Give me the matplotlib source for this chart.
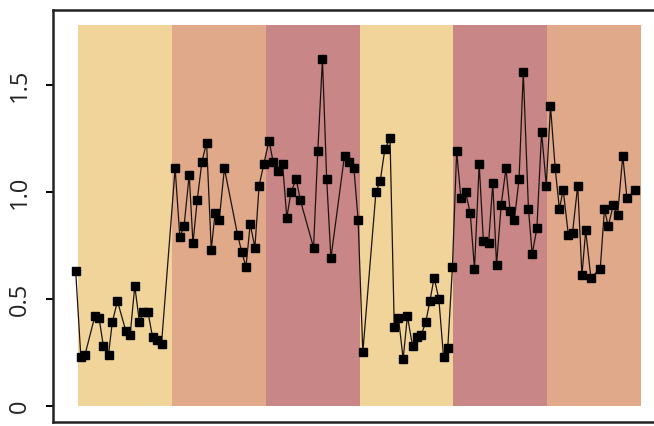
import matplotlib
matplotlib.use("Agg")
import numpy as np
from matplotlib import pyplot as plt

# background phases (x in days, each phase 20 days wide)
phase_start = [0, 20, 40, 60, 80, 100]
phase_width = [20, 20, 20, 20, 20, 20]
phase_top = 1.78
phase_colors = ["#F1D49A", "#DFA98A", "#C98686", "#F1D49A", "#C98686", "#DFA98A"]

# series
x = [-0.5, 0.6, 1.5, 3.6, 4.5, 5.4, 6.5, 7.3, 8.4, 10.2, 11.1, 12.1, 13.1, 13.9,
     14.9, 15.9, 16.9, 17.8, 20.7, 21.7, 22.6, 23.7, 24.5, 25.4, 26.4, 27.4, 28.4,
     29.2, 30.1, 31.2, 34.0, 34.9, 35.8, 36.7, 37.7, 38.6, 39.6, 40.7, 41.6, 42.7,
     43.6, 44.5, 45.4, 46.5, 47.4, 50.2, 51.1, 52.1, 53.0, 53.9, 56.8, 57.8, 58.8,
     59.7, 60.7, 63.5, 64.4, 65.4, 66.5, 67.4, 68.3, 69.3, 70.2, 71.3, 72.2, 73.1,
     74.1, 75.0, 75.9, 76.9, 77.9, 78.8, 79.8, 80.7, 81.6, 82.6, 83.6, 84.5, 85.5,
     86.4, 87.5, 88.4, 89.2, 90.2, 91.2, 92.1, 93.0, 94.0, 94.9, 96.0, 96.8, 97.8,
     98.8, 99.8, 100.7, 101.7, 102.6, 103.4, 104.5, 105.4, 106.5, 107.4, 108.2,
     109.3, 111.3, 112.2, 113.0, 114.1, 115.0, 116.1, 117.0, 118.8]
y = [0.63, 0.23, 0.24, 0.42, 0.41, 0.28, 0.24, 0.39, 0.49, 0.35, 0.33, 0.56, 0.39, 0.44,
     0.44, 0.32, 0.31, 0.29, 1.11, 0.79, 0.84, 1.08, 0.76, 0.96, 1.14, 1.23, 0.73,
     0.90, 0.87, 1.11, 0.80, 0.72, 0.65, 0.85, 0.74, 1.03, 1.13, 1.24, 1.14, 1.10,
     1.13, 0.88, 1.00, 1.06, 0.96, 0.74, 1.19, 1.62, 1.06, 0.69, 1.17, 1.14, 1.11,
     0.87, 0.25, 1.00, 1.05, 1.20, 1.25, 0.37, 0.41, 0.22, 0.42, 0.28, 0.32, 0.33,
     0.39, 0.49, 0.60, 0.50, 0.23, 0.27, 0.65, 1.19, 0.97, 1.00, 0.90, 0.64, 1.13,
     0.77, 0.76, 1.04, 0.66, 0.94, 1.11, 0.91, 0.87, 1.06, 1.56, 0.92, 0.71, 0.83,
     1.28, 1.03, 1.40, 1.11, 0.92, 1.01, 0.80, 0.81, 1.03, 0.61, 0.82, 0.60,
     0.64, 0.92, 0.84, 0.94, 0.89, 1.17, 0.97, 1.01]
y_ticks = [0, 0.5, 1.0, 1.5]
y_tick_labels = ["0", "0.5", "1.0", "1.5"]

plt.rcParams["font.family"] = ["Open Sans", "DejaVu Sans"]

fig = plt.figure(figsize=(6.54, 4.26), dpi=100)
# axes run past the right edge, like the cropped original
ax = fig.add_axes([53 / 654, 4 / 426, 627 / 654, 412 / 426])

ax.bar(phase_start, phase_top, width=phase_width, align="edge",
       color=phase_colors, edgecolor="none", zorder=1)
ax.plot(x, y, color="#1a1410", lw=0.9, marker="s", ms=5.7, mfc="black",
        mec="black", zorder=3)

ax.set_xlim(-5.33, 128.3)
ax.set_ylim(-0.075, 1.85)

ax.set_yticks(y_ticks)
ax.set_yticklabels(y_tick_labels, rotation=90, va="center", fontsize=17,
                   color="#222222")
ax.tick_params(axis="y", length=5, width=1.4, pad=10)
ax.set_xticks([])

for s in ax.spines.values():
    s.set_linewidth(1.8)
    s.set_color("#222222")

fig.savefig("out.png", dpi=100)
